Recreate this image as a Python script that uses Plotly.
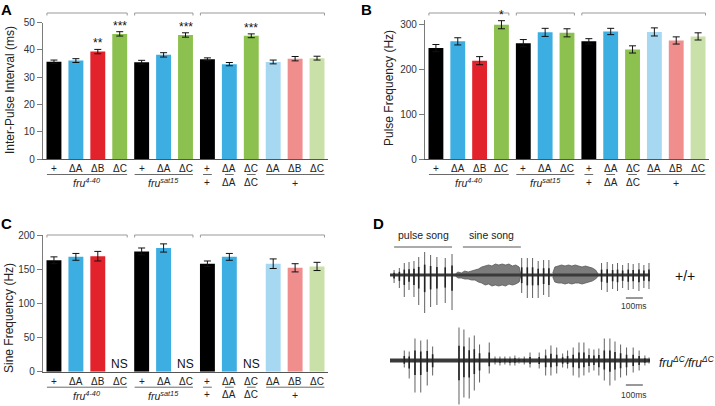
import plotly.graph_objects as go

W, H = 715, 406
FONT = "Liberation Sans, Arial, sans-serif"

# ---------------- data (bar panels) ----------------
row1_labels = ["+", "ΔA", "ΔB", "ΔC", "+", "ΔA", "ΔC", "+", "ΔA", "ΔC", "ΔA", "ΔB", "ΔC"]
row2_labels = {7: "+", 8: "ΔA", 9: "ΔC"}
group_labels = [(0, 3, "<i>fru<sup>4-40</sup></i>"), (4, 6, "<i>fru<sup>sat15</sup></i>"), (10, 12, "+")]
bracket_groups = [(0, 3), (4, 6), (7, 12)]

BLACK, BLUE, RED, GREEN = "#000000", "#3daee2", "#e3232b", "#8cc04f"
LBLUE, PINK, LGREEN = "#a6d9f1", "#f08d8d", "#c9e0a9"
bar_colors = [BLACK, BLUE, RED, GREEN, BLACK, BLUE, GREEN, BLACK, BLUE, GREEN, LBLUE, PINK, LGREEN]

ipi_mean = [35.7, 36.1, 39.4, 45.9, 35.5, 38.2, 45.5, 36.6, 34.8, 45.2, 35.6, 36.8, 37.0]
ipi_sem = [0.6, 0.7, 0.8, 0.8, 0.7, 0.8, 0.8, 0.5, 0.6, 0.7, 0.7, 0.8, 0.7]
ipi_sig = ["", "", "**", "***", "", "", "***", "", "", "***", "", "", ""]

pf_mean = [247, 262, 219, 299, 258, 282, 281, 262, 284, 244, 283, 264, 273]
pf_sem = [8, 8, 9, 9, 8, 9, 9, 6, 7, 8, 9, 8, 8]
pf_sig = ["", "", "", "*", "", "", "", "", "", "", "", "", ""]

sf_mean = [163, 168, 169, None, 176, 181, None, 158, 168, None, 158, 152, 154]
sf_sem = [5, 5, 7, None, 5, 6, None, 4, 5, None, 7, 6, 6]
sf_sig = ["", "", "", "NS", "", "", "NS", "", "", "NS", "", "", ""]

# ---------------- data (song traces, panel D) ----------------
# times in ms, amplitudes in arbitrary units (up / down from baseline)
wt_pulse_t = [24, 55, 84, 112, 141, 169, 204, 239, 276, 325, 365,
              775, 808, 839, 872, 904, 935,
              1245, 1278, 1310, 1339, 1369, 1402, 1431, 1465, 1494, 1524]
wt_pulse_up = [5, 7, 12, 13, 14, 18, 23, 20, 18, 17, 21,
               17, 17, 17, 14, 15, 15,
               12, 13, 11, 12, 10, 12, 11, 12, 10, 12]
wt_pulse_dn = [8, 13, 22, 15, 22, 30, 38, 32, 30, 28, 35,
               18, 23, 23, 23, 20, 22,
               15, 17, 14, 16, 13, 15, 14, 16, 13, 14]
# sine song envelopes (upper / lower extent)
wt_sine1_t = [385, 400, 420, 440, 460, 480, 500, 520, 540, 560, 580, 600, 620, 640, 660,
              680, 700, 720, 740, 760, 768]
wt_sine1_up = [1, 3, 2, 4, 3, 4, 5, 6, 8, 9, 10, 9, 11, 10, 11, 10, 11, 9, 10, 8, 2]
wt_sine1_dn = [1, 3, 3, 4, 4, 5, 5, 7, 8, 10, 9, 11, 10, 11, 10, 11, 9, 10, 9, 7, 2]
wt_sine2_t = [958, 970, 990, 1010, 1030, 1050, 1070, 1090, 1110, 1130, 1150, 1170, 1190, 1210, 1225]
wt_sine2_up = [2, 8, 9, 10, 9, 10, 9, 10, 9, 8, 9, 8, 7, 5, 1]
wt_sine2_dn = [2, 7, 8, 8, 9, 8, 9, 8, 8, 9, 8, 7, 6, 4, 1]

dc_pulse_t = [84, 113, 147, 181, 219, 251,
              406, 435, 466, 496, 527, 584,
              618, 647, 676, 706, 735,
              759, 790, 824, 878, 916, 947, 981, 1016, 1045, 1078,
              1112, 1141, 1171, 1200, 1229, 1261, 1294, 1324, 1357, 1392,
              1431, 1466, 1500, 1524]
dc_pulse_up = [10, 9, 22, 20, 21, 14,
               33, 31, 23, 25, 16, 18,
               4, 4, 4, 4, 5,
               3, 4, 8, 8, 11, 15, 13, 7, 10, 13,
               18, 18, 12, 11, 12, 22, 22, 19, 16, 13,
               13, 10, 5, 3]
dc_pulse_dn = [7, 18, 32, 32, 25, 15,
               44, 37, 38, 30, 22, 13,
               4, 5, 4, 5, 5,
               3, 4, 7, 8, 15, 15, 13, 7, 8, 15,
               17, 15, 12, 10, 15, 20, 25, 20, 17, 15,
               12, 10, 5, 3]


def pxf(px):
    return px / W


def pyf(px):
    return 1 - px / H


def xfrac(v):
    return (v + 0.5) / 13.0


fig = go.Figure()
annotations = []
shapes = []
layout = {}

panels = [
    dict(x="x", y="y", xpx=(43, 328), zero_px=159.0, top_px=22.7, yr=[0, 50], dtick=10,
         mean=ipi_mean, sem=ipi_sem, sig=ipi_sig, title="Inter-Pulse Interval (ms)",
         title_px=(10, 90), letter="A", letter_px=(6, 9), bracket_px=13),
    dict(x="x2", y="y2", xpx=(425, 709), zero_px=159.0, top_px=19.8, yr=[0, 310], dtick=100,
         mean=pf_mean, sem=pf_sem, sig=pf_sig, title="Pulse Frequency (Hz)",
         title_px=(389, 88), letter="B", letter_px=(366, 9), bracket_px=13),
    dict(x="x3", y="y3", xpx=(43, 328), zero_px=371.7, top_px=235.0, yr=[0, 200], dtick=50,
         mean=sf_mean, sem=sf_sem, sig=sf_sig, title="Sine Frequency (Hz)",
         title_px=(9, 318), letter="C", letter_px=(6, 223), bracket_px=235),
]

GRAY = "#7a7a7a"
for p in panels:
    xa, ya = p["x"], p["y"]
    xname = "xaxis" + xa[1:]
    yname = "yaxis" + ya[1:]
    fig.add_trace(go.Bar(
        x=list(range(13)), y=p["mean"], width=0.68,
        marker=dict(color=bar_colors, line=dict(width=0)),
        error_y=dict(type="data", array=p["sem"], color="#111", thickness=1, width=3.5, visible=True),
        xaxis=xa, yaxis=ya, hoverinfo="skip"))
    layout[xname] = dict(domain=[pxf(p["xpx"][0]), pxf(p["xpx"][1])], range=[-0.5, 12.5],
                         showticklabels=False, ticks="", showline=True, linecolor="#555",
                         linewidth=1.3, showgrid=False, zeroline=False, anchor=ya, fixedrange=True,
                         automargin=False)
    layout[yname] = dict(domain=[pyf(p["zero_px"]), pyf(p["top_px"])], range=p["yr"],
                         dtick=p["dtick"], tick0=0, ticks="outside", ticklen=5, tickcolor=GRAY,
                         tickwidth=1.2, showline=True, linecolor=GRAY, linewidth=1.3,
                         showgrid=False, zeroline=False, anchor=xa, fixedrange=True,
                         automargin=False,
                         tickfont=dict(size=10, color="#333", family=FONT))
    z = p["zero_px"]
    # row labels
    for i, lab in enumerate(row1_labels):
        annotations.append(dict(xref=xa, yref="paper", x=i, y=pyf(z + 9.3), text=lab,
                                showarrow=False, font=dict(size=10, color="#222"), yanchor="middle"))
    for i, lab in row2_labels.items():
        annotations.append(dict(xref=xa, yref="paper", x=i, y=pyf(z + 23), text=lab,
                                showarrow=False, font=dict(size=10, color="#222"), yanchor="middle"))
        shapes.append(dict(type="line", xref=xa + " domain", yref="paper",
                           x0=xfrac(i - 0.2), x1=xfrac(i + 0.2), y0=pyf(z + 15.5), y1=pyf(z + 15.5),
                           line=dict(color="#444", width=0.8)))
    for a, b, lab in group_labels:
        annotations.append(dict(xref=xa, yref="paper", x=(a + b) / 2, y=pyf(z + 23.5), text=lab,
                                showarrow=False, font=dict(size=10.5, color="#222"), yanchor="middle"))
        shapes.append(dict(type="line", xref=xa + " domain", yref="paper",
                           x0=xfrac(a - 0.32), x1=xfrac(b + 0.34), y0=pyf(z + 15.5), y1=pyf(z + 15.5),
                           line=dict(color="#444", width=0.8)))
    # brackets on top
    bp = p["bracket_px"]
    for a, b in bracket_groups:
        x0, x1 = xfrac(a - 0.32), xfrac(b + 0.34)
        shapes.append(dict(type="line", xref=xa + " domain", yref="paper", x0=x0, x1=x1,
                           y0=pyf(bp), y1=pyf(bp), line=dict(color="#999", width=1)))
        for xx in (x0, x1):
            shapes.append(dict(type="line", xref=xa + " domain", yref="paper", x0=xx, x1=xx,
                               y0=pyf(bp), y1=pyf(bp + 2.5), line=dict(color="#999", width=1)))
    # significance marks
    for i, s in enumerate(p["sig"]):
        if not s:
            continue
        if s == "NS":
            annotations.append(dict(xref=xa, yref=ya, x=i, y=0, text="NS", showarrow=False,
                                    yanchor="bottom", yshift=-1, font=dict(size=12, color="#111")))
        else:
            annotations.append(dict(xref=xa, yref=ya, x=i, y=p["mean"][i] + p["sem"][i], text=s,
                                    showarrow=False, yanchor="bottom", yshift=-3,
                                    font=dict(size=12, color="#111")))
    # titles and letters
    annotations.append(dict(xref="paper", yref="paper", x=pxf(p["title_px"][0]), y=pyf(p["title_px"][1]),
                            text=p["title"], textangle=-90, showarrow=False,
                            font=dict(size=12, color="#222"), xanchor="center", yanchor="middle"))
    annotations.append(dict(xref="paper", yref="paper", x=pxf(p["letter_px"][0]), y=pyf(p["letter_px"][1]),
                            text="<b>" + p["letter"] + "</b>", showarrow=False,
                            font=dict(size=15, color="#000"), xanchor="center", yanchor="middle"))

# ---------------- panel D ----------------
def segs(ts, ups, dns, frac=1.0):
    xs, ys = [], []
    for t, u, d in zip(ts, ups, dns):
        xs += [t, t, None]
        ys += [u * frac, -d * frac, None]
    return xs, ys


def env(ts, ups, dns):
    return ts + ts[::-1], ups + [-d for d in dns[::-1]]


traces_D = [
    ("x4", "y4", wt_pulse_t, wt_pulse_up, wt_pulse_dn,
     [(wt_sine1_t, wt_sine1_up, wt_sine1_dn), (wt_sine2_t, wt_sine2_up, wt_sine2_dn)], 3.0),
    ("x5", "y5", dc_pulse_t, dc_pulse_up, dc_pulse_dn, [], 3.8),
]
for xa, ya, pt, pu, pdn, sines, bw in traces_D:
    for st, su, sd in sines:
        ex, ey = env(st, su, sd)
        fig.add_trace(go.Scatter(x=ex, y=ey, fill="toself", fillcolor="#7c7c7c", mode="lines",
                                 line=dict(width=0.8, color="#5a5a5a"), xaxis=xa, yaxis=ya, hoverinfo="skip"))
    fig.add_trace(go.Scatter(x=[0, 1530], y=[0, 0], mode="lines", line=dict(color="#3a3a3a", width=bw),
                             xaxis=xa, yaxis=ya, hoverinfo="skip"))
    sx, sy = segs(pt, pu, pdn)
    fig.add_trace(go.Scatter(x=sx, y=sy, mode="lines", line=dict(color="#606060", width=1.0),
                             xaxis=xa, yaxis=ya, hoverinfo="skip", connectgaps=False))
    sx, sy = segs(pt, pu, pdn, 0.45)
    fig.add_trace(go.Scatter(x=sx, y=sy, mode="lines", line=dict(color="#222", width=1.6),
                             xaxis=xa, yaxis=ya, hoverinfo="skip", connectgaps=False))

layout["xaxis4"] = dict(domain=[pxf(390), pxf(650)], range=[0, 1530], visible=False, anchor="y4",
                        fixedrange=True, automargin=False)
layout["yaxis4"] = dict(domain=[pyf(320), pyf(230)], range=[-45, 45], visible=False, anchor="x4",
                        fixedrange=True, automargin=False)
layout["xaxis5"] = dict(domain=[pxf(390), pxf(650)], range=[0, 1530], visible=False, anchor="y5",
                        fixedrange=True, automargin=False)
layout["yaxis5"] = dict(domain=[pyf(405.5), pyf(315.5)], range=[-45, 45], visible=False, anchor="x5",
                        fixedrange=True, automargin=False)

# scale bars
for xa, ya, yb, shift in (("x4", "y4", -23, -8), ("x5", "y5", -24.5, -10)):
    shapes.append(dict(type="line", xref=xa, yref=ya, x0=1388, x1=1488, y0=yb, y1=yb,
                       line=dict(color="#333", width=1)))
    annotations.append(dict(xref=xa, yref=ya, x=1438, y=yb, yshift=shift, text="100ms", showarrow=False,
                            font=dict(size=8.5, color="#333"), yanchor="middle"))
# song labels
for t0, t1, lab in ((24, 365, "pulse song"), (429, 770, "sine song")):
    shapes.append(dict(type="line", xref="x4", yref="y4", x0=t0, x1=t1, y0=28, y1=28,
                       line=dict(color="#444", width=0.9)))
    annotations.append(dict(xref="x4", yref="y4", x=(t0 + t1) / 2, y=40, text=lab, showarrow=False,
                            font=dict(size=10.5, color="#222"), yanchor="middle"))

annotations.append(dict(xref="paper", yref="paper", x=pxf(378), y=pyf(223), text="<b>D</b>",
                        showarrow=False, font=dict(size=15, color="#000"), xanchor="center", yanchor="middle"))
annotations.append(dict(xref="paper", yref="paper", x=pxf(685), y=pyf(276), text="+/+",
                        showarrow=False, font=dict(size=14, color="#111"), xanchor="center", yanchor="middle"))
annotations.append(dict(xref="paper", yref="paper", x=pxf(657), y=pyf(362),
                        text="<i>fru<sup>ΔC</sup>/fru<sup>ΔC</sup></i>",
                        showarrow=False, font=dict(size=12, color="#111"), xanchor="left", yanchor="middle"))

fig.update_layout(
    width=W, height=H, margin=dict(l=0, r=0, t=0, b=0, autoexpand=False),
    paper_bgcolor="white", plot_bgcolor="white", showlegend=False,
    font=dict(family=FONT, color="#222"),
    annotations=annotations, shapes=shapes, **layout)

fig.write_html("out.html", config={"displayModeBar": False},
               post_script="document.body.style.margin='0';document.body.style.overflow='hidden';")
